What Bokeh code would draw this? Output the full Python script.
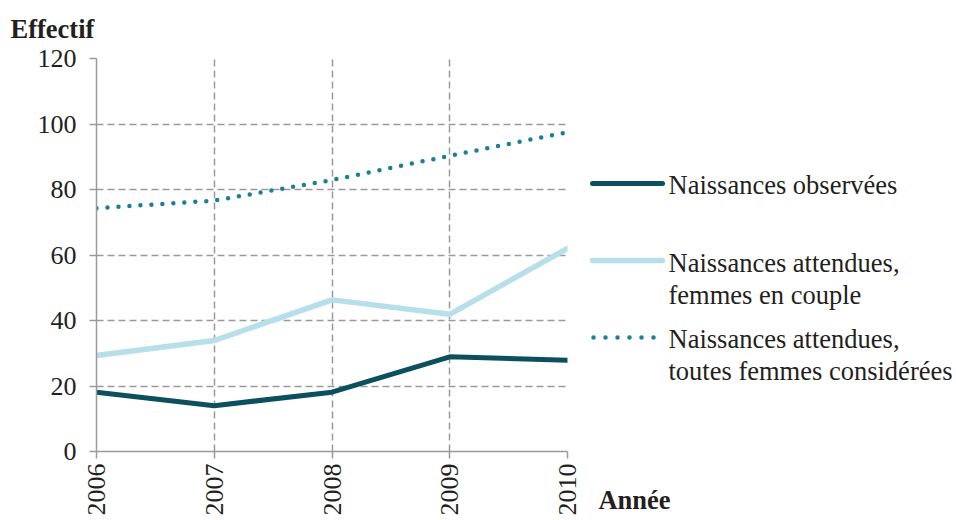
from bokeh.plotting import figure
from bokeh.models import Range1d, FixedTicker
from bokeh.layouts import row
from bokeh.core.properties import value
from bokeh.embed import file_html
from bokeh.resources import INLINE

years = [2006, 2007, 2008, 2009, 2010]
observed = [18.1, 14.0, 18.1, 28.9, 27.9]
expected_couple = [29.3, 33.9, 46.3, 41.9, 62.0]
expected_all = [74.3, 76.6, 82.9, 90.3, 97.5]
y_ticks = [0, 20, 40, 60, 80, 100, 120]

label_obs = ["Naissances observées"]
label_couple = ["Naissances attendues,", "femmes en couple"]
label_all = ["Naissances attendues,", "toutes femmes considérées"]
x_title = "Année"
y_title = "Effectif"

FONT = "Liberation Serif"
GREY = "#9a9a9a"
TXT = "#231f20"
C_OBS, C_COUPLE, C_ALL = "#0c4f5d", "#b6dfea", "#1b7f98"

W, H = 956, 520
W1 = 585
TOP, BOTTOM = 58, 451

p = figure(width=W1, height=H, output_backend="svg", toolbar_location=None,
           x_range=Range1d(2006, 2010), y_range=Range1d(0, 120),
           min_border_left=96, min_border_right=18, min_border_top=TOP,
           min_border_bottom=H - BOTTOM)
p.outline_line_color = None

p.line(years, expected_all, line_color=C_ALL, line_width=4.5, line_dash="0 11", line_cap="round")
p.line(years, expected_couple, line_color=C_COUPLE, line_width=5.5, line_cap="round")
p.line(years, observed, line_color=C_OBS, line_width=5, line_cap="round")

for ax in (p.xaxis[0], p.yaxis[0]):
    ax.axis_line_color = GREY
    ax.axis_line_width = 1.5
    ax.major_tick_line_color = GREY
    ax.major_tick_line_width = 1.5
    ax.major_tick_in = 0
    ax.major_tick_out = 7
    ax.minor_tick_line_color = None
    ax.major_label_text_font = FONT
    ax.major_label_text_font_size = "26px"
    ax.major_label_text_color = TXT

p.yaxis.ticker = FixedTicker(ticks=y_ticks)
p.xaxis.ticker = FixedTicker(ticks=years)
p.yaxis.major_label_standoff = 13
p.xaxis.major_label_standoff = 5
p.xaxis.major_label_orientation = 1.5708

p.xgrid.ticker = FixedTicker(ticks=years)
p.ygrid.ticker = FixedTicker(ticks=y_ticks)
for g in (p.xgrid[0], p.ygrid[0]):
    g.grid_line_color = GREY
    g.grid_line_width = 1.5
    g.grid_line_dash = "7 4"

p.title.text = y_title
p.title.text_font = FONT
p.title.text_font_size = "26.5px"
p.title.text_font_style = "bold"
p.title.text_color = TXT
p.title.align = "left"
p.title.offset = -86
p.title.vertical_align = "top"
p.title.standoff = 26

# legend panel: its frame is aligned with the main frame, y data = screen y
W2 = W - W1
q = figure(width=W2, height=H, output_backend="svg", toolbar_location=None,
           x_range=Range1d(0, W2), y_range=Range1d(BOTTOM, TOP),
           min_border_left=0, min_border_right=0, min_border_top=TOP,
           min_border_bottom=H - BOTTOM, y_axis_type=None)
q.outline_line_color = None
q.xgrid.visible = False
q.ygrid.visible = False

# x-axis title "Année" rendered as the single label of the legend panel's bottom axis
qx = q.xaxis[0]
qx.ticker = FixedTicker(ticks=[49])
qx.major_label_overrides = {49: x_title}
qx.axis_line_color = None
qx.major_tick_line_color = None
qx.minor_tick_line_color = None
qx.major_label_text_font = FONT
qx.major_label_text_font_size = "26.5px"
qx.major_label_text_font_style = "bold"
qx.major_label_text_color = TXT
qx.major_label_standoff = 27

key_x = [7, 77]
text_x = 83
q.line(key_x, [183, 183], line_color=C_OBS, line_width=5, line_cap="round")
q.line(key_x, [260, 260], line_color=C_COUPLE, line_width=5.5, line_cap="round")
q.line([8, 70], [337, 337], line_color=C_ALL, line_width=4.5, line_dash="0 12", line_cap="round")

lines = label_obs + label_couple + label_all
ys = [184, 262, 294, 338, 370]
q.text(x=[text_x] * len(lines), y=ys, text=lines, text_font=value(FONT),
       text_font_size="26.5px", text_color=TXT, text_baseline="middle", text_align="left")

layout = row(p, q, spacing=0)
open("out.html", "w").write(file_html(layout, INLINE))
